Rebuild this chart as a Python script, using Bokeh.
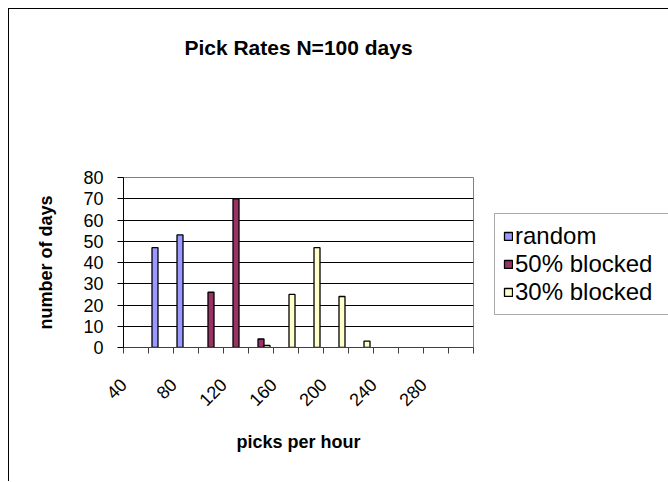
import math
from bokeh.plotting import figure
from bokeh.models import (Range1d, FixedTicker, Legend, LegendItem, ColumnDataSource, Title,
                          CDSView, BooleanFilter)
from bokeh.transform import dodge
from bokeh.embed import file_html
from bokeh.resources import INLINE

# ---- data ----
categories = [40, 60, 80, 100, 120, 140, 160, 180, 200, 220, 240, 260, 280, 300]
random_days = [0, 47, 53, 0, 0, 0, 0, 0, 0, 0, 0, 0, 0, 0]
blocked50_days = [0, 0, 0, 26, 70, 4, 0, 0, 0, 0, 0, 0, 0, 0]
blocked30_days = [0, 0, 0, 0, 0, 1, 25, 47, 24, 3, 0, 0, 0, 0]
series_names = ["random", "50% blocked", "30% blocked"]
series_keys = ["random", "b50", "b30"]
series_colors = ["#9999FF", "#993366", "#FFFFCC"]
x_tick_labels = ["40", "80", "120", "160", "200", "240", "280"]
y_ticks = [0, 10, 20, 30, 40, 50, 60, 70, 80]

FONT = "Liberation Sans"
step = categories[1] - categories[0]
bar_w = step * 6 / 25

data = dict(cat=categories, random=random_days, b50=blocked50_days, b30=blocked30_days)
source = ColumnDataSource(data=data)

p = figure(frame_width=350, frame_height=170, output_backend="svg", toolbar_location=None,
           x_range=Range1d(categories[0] - step / 2, categories[-1] + step / 2),
           y_range=Range1d(y_ticks[0], y_ticks[-1]),
           min_border_left=114, min_border_right=188,
           min_border_top=168, min_border_bottom=134,
           x_axis_label="picks per hour", y_axis_label="number of days")
p.styles = {"margin-left": "8px", "margin-top": "8px",
            "border-left": "1px solid black", "border-top": "1px solid black"}

# spacer between frame and title, then the title itself (further out)
spacer = Title(text=" ", text_font_size="1px", standoff=93)
p.add_layout(spacer, "above")
title = Title(text="Pick Rates N=100 days", align="center", text_font=FONT,
              text_font_size="21px", text_font_style="bold", text_color="black",
              standoff=46)
p.add_layout(title, "above")

renderers = []
offsets = [-bar_w, 0, bar_w]
for key, color, off in zip(series_keys, series_colors, offsets):
    view = CDSView(filter=BooleanFilter([v > 0 for v in data[key]]))
    r = p.vbar(x=dodge("cat", off, range=p.x_range), top=key, width=bar_w,
               source=source, view=view, fill_color=color, line_color="black",
               line_width=1.3)
    renderers.append(r)

# grid / frame
p.xgrid.visible = False
p.ygrid.ticker = FixedTicker(ticks=y_ticks)
p.ygrid.grid_line_color = "black"
p.outline_line_color = "#808080"
p.background_fill_color = "white"

# y axis
ya = p.yaxis[0]
ya.ticker = FixedTicker(ticks=y_ticks)
ya.axis_line_color = "black"
ya.major_tick_line_color = "black"
ya.major_tick_out = 6
ya.major_tick_in = 0
ya.minor_tick_line_color = None
ya.major_label_text_font = FONT
ya.major_label_text_font_size = "18px"
ya.major_label_text_color = "black"
ya.major_label_standoff = 14
ya.axis_label_text_font = FONT
ya.axis_label_text_font_size = "18px"
ya.axis_label_text_font_style = "bold"
ya.axis_label_text_color = "black"
ya.axis_label_standoff = 24

# x axis: ticks at category boundaries
boundaries = [c - step / 2 for c in categories] + [categories[-1] + step / 2]
overrides = {}
for b in boundaries:
    lab = str(int(b + step / 2))
    overrides[b] = lab if lab in x_tick_labels else ""
xa = p.xaxis[0]
xa.ticker = FixedTicker(ticks=boundaries)
xa.major_label_overrides = overrides
xa.major_label_orientation = math.pi / 4
xa.axis_line_color = "#404040"
xa.major_tick_line_color = "#404040"
xa.major_tick_out = 6
xa.major_tick_in = 0
xa.minor_tick_line_color = None
xa.major_label_text_font = FONT
xa.major_label_text_font_size = "18px"
xa.major_label_text_color = "black"
xa.major_label_standoff = 28
xa.axis_label_text_font = FONT
xa.axis_label_text_font_size = "18px"
xa.axis_label_text_font_style = "bold"
xa.axis_label_text_color = "black"
xa.axis_label_standoff = 17

legend = Legend(items=[LegendItem(label=n, renderers=[r]) for n, r in zip(series_names, renderers)],
                location=(21, 32), orientation="vertical",
                label_text_font=FONT, label_text_font_size="24px", label_text_color="black",
                glyph_width=10, glyph_height=10, label_standoff=2, spacing=0,
                label_width=150, padding=8, margin=0,
                border_line_color="#555555", border_line_width=1,
                background_fill_color="white", background_fill_alpha=1)
p.add_layout(legend, "right")

open("out.html", "w").write(file_html(p, INLINE))
